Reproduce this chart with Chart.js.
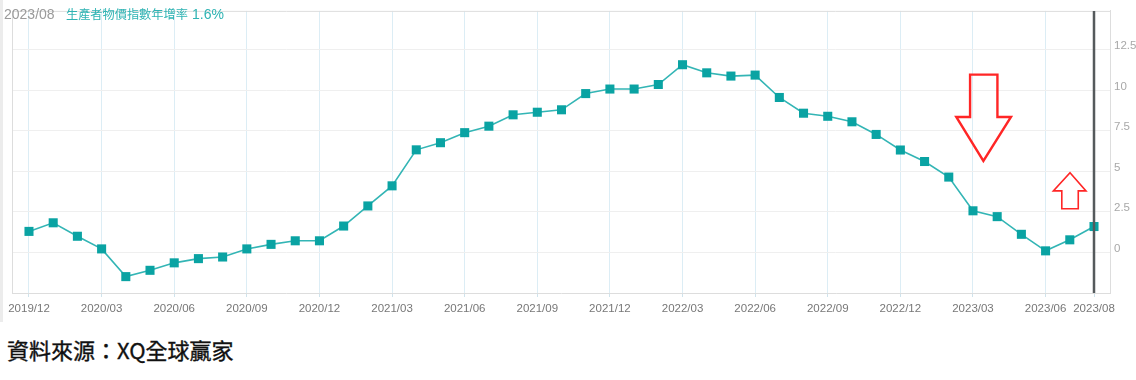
<!DOCTYPE html>
<html>
<head>
<meta charset="utf-8">
<script src="https://cdn.jsdelivr.net/npm/chart.js@4/dist/chart.umd.min.js"></script>
<style>
  html, body { margin: 0; padding: 0; background: #ffffff; width: 1136px; height: 380px; overflow: hidden; }
  #wrap { position: absolute; left: 0; top: 0; width: 1136px; height: 326px; }
  #leftbar { position: absolute; left: 0; top: 0; width: 3px; height: 322px; background: #ececec; }
  #source { position: absolute; left: 7px; top: 334px; font-family: "Noto Sans CJK TC", "Noto Sans", sans-serif; font-size: 22px; font-weight: 400; color: #111; -webkit-text-stroke: 0.35px #111; line-height: 30px; white-space: nowrap; }
</style>
</head>
<body>
<div id="leftbar"></div>
<div id="wrap"><canvas id="c" width="1136" height="326"></canvas></div>
<div id="source">資料來源：XQ全球贏家</div>
<script>
const categories = [
  '2019/12',
  '2020/01','2020/02','2020/03','2020/04','2020/05','2020/06','2020/07','2020/08','2020/09','2020/10','2020/11','2020/12',
  '2021/01','2021/02','2021/03','2021/04','2021/05','2021/06','2021/07','2021/08','2021/09','2021/10','2021/11','2021/12',
  '2022/01','2022/02','2022/03','2022/04','2022/05','2022/06','2022/07','2022/08','2022/09','2022/10','2022/11','2022/12',
  '2023/01','2023/02','2023/03','2023/04','2023/05','2023/06','2023/07','2023/08'
];
const ppiYoY = [
  1.30,
  1.83, 1.00, 0.22, -1.49, -1.10, -0.64, -0.38, -0.28, 0.22, 0.50, 0.72, 0.72,
  1.63, 2.87, 4.11, 6.33, 6.77, 7.39, 7.79, 8.49, 8.65, 8.80, 9.80, 10.08,
  10.08, 10.36, 11.58, 11.08, 10.88, 10.94, 9.56, 8.59, 8.40, 8.06, 7.28, 6.32,
  5.61, 4.65, 2.57, 2.21, 1.12, 0.10, 0.78, 1.6
];
const xTickLabels = ['2019/12','2020/03','2020/06','2020/09','2020/12','2021/03','2021/06','2021/09','2021/12','2022/03','2022/06','2022/09','2022/12','2023/03','2023/06','2023/08'];
const yTickValues = [0, 2.5, 5, 7.5, 10, 12.5];
const seriesName = '生產者物價指數年增率';

// annotation arrows, in data units [monthIndex, value]
const downArrow = [[38.88,10.97],[40.01,10.97],[40.01,8.36],[40.57,8.36],[39.43,5.65],[38.31,8.36],[38.88,8.36]];
const upArrow = [[43.01,4.92],[43.67,3.80],[43.35,3.80],[43.35,2.70],[42.67,2.70],[42.67,3.80],[42.32,3.80]];

const points = ppiYoY.map((v, i) => ({ x: i, y: v }));
const lastIdx = categories.length - 1;
const tickFont = '"Liberation Sans", Arial, sans-serif';

const overlay = {
  id: 'overlay',
  beforeDatasetsDraw(chart) {
    const { ctx, chartArea: a } = chart;
    ctx.save();
    ctx.strokeStyle = '#dddddd';
    ctx.lineWidth = 1;
    ctx.beginPath();
    ctx.moveTo(a.left + 0.5, a.top);
    ctx.lineTo(a.left + 0.5, a.bottom);
    ctx.moveTo(a.left, a.top + 0.5);
    ctx.lineTo(a.right, a.top + 0.5);
    ctx.stroke();
    ctx.restore();
  },
  afterDatasetsDraw(chart) {
    const { ctx, chartArea: a, scales } = chart;
    const xs = scales.x, ys = scales.y;
    ctx.save();
    const cx = Math.round(xs.getPixelForValue(lastIdx));
    ctx.strokeStyle = '#555a5c';
    ctx.lineWidth = 2.5;
    ctx.beginPath();
    ctx.moveTo(cx, a.top);
    ctx.lineTo(cx, a.bottom);
    ctx.stroke();
    const drawArrow = (pts, w) => {
      ctx.beginPath();
      pts.forEach((p, k) => {
        const px = xs.getPixelForValue(p[0]), py = ys.getPixelForValue(p[1]);
        if (k === 0) ctx.moveTo(px, py); else ctx.lineTo(px, py);
      });
      ctx.closePath();
      ctx.strokeStyle = '#ff2626';
      ctx.lineWidth = w;
      ctx.lineJoin = 'miter';
      ctx.stroke();
    };
    drawArrow(downArrow, 2.4);
    drawArrow(upArrow, 1.6);
    ctx.textBaseline = 'alphabetic';
    ctx.textAlign = 'left';
    ctx.fillStyle = '#9a9a9a';
    ctx.font = '14px "Liberation Sans", Arial, sans-serif';
    ctx.fillText(categories[lastIdx], 4, 19);
    ctx.fillStyle = '#2eb3b3';
    ctx.font = '12.2px "Noto Sans CJK TC", sans-serif';
    ctx.fillText(seriesName, 66, 19);
    ctx.font = '14px "Liberation Sans", Arial, sans-serif';
    ctx.fillText(ppiYoY[lastIdx].toFixed(1) + '%', 192, 19);
    ctx.restore();
  }
};

new Chart(document.getElementById('c'), {
  type: 'line',
  data: {
    datasets: [{
      label: seriesName,
      data: points,
      borderColor: '#33b5b5',
      borderWidth: 1.6,
      pointStyle: 'rect',
      pointRadius: 6.4,
      pointBackgroundColor: '#0aa3a3',
      pointBorderColor: '#0aa3a3',
      pointBorderWidth: 0,
      tension: 0,
      fill: false
    }]
  },
  options: {
    responsive: false,
    animation: false,
    devicePixelRatio: 1,
    layout: { padding: { left: 12, top: 4, right: 0, bottom: 0 } },
    plugins: { legend: { display: false }, tooltip: { enabled: false } },
    scales: {
      x: {
        type: 'linear',
        min: -0.702,
        max: 44.661,
        afterBuildTicks(scale) {
          scale.ticks = xTickLabels.map(l => ({ value: categories.indexOf(l) }));
        },
        afterFit(scale) { scale.height = 33; },
        grid: { color: '#dcedf5', lineWidth: 1, drawTicks: true, tickLength: 4, tickColor: '#cfe3ec' },
        border: { color: '#dddddd' },
        ticks: {
          color: '#777777',
          font: { family: tickFont, size: 11.5 },
          padding: 5,
          maxRotation: 0,
          autoSkip: false,
          callback: (v) => categories[v]
        }
      },
      y: {
        position: 'right',
        min: -2.5,
        max: 14.9,
        afterBuildTicks(scale) {
          scale.ticks = yTickValues.map(v => ({ value: v }));
        },
        afterFit(scale) { scale.width = 26; },
        grid: { color: '#efefef', lineWidth: 1, drawTicks: false },
        border: { color: '#dddddd' },
        ticks: {
          color: '#a8a8a8',
          font: { family: tickFont, size: 11.5 },
          padding: 4,
          labelOffset: -4,
          callback: (v) => String(v)
        }
      }
    }
  },
  plugins: [overlay]
});
</script>
</body>
</html>
